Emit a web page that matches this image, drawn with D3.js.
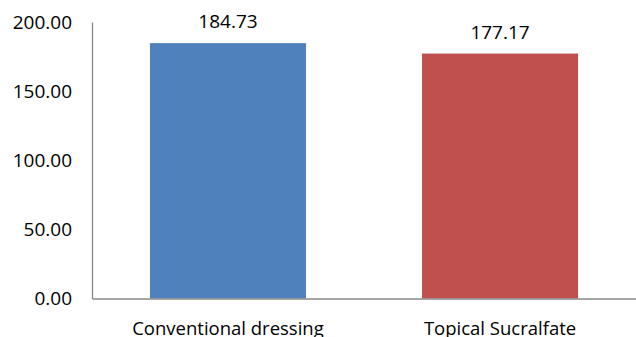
<!DOCTYPE html>
<html>
<head>
<meta charset="utf-8">
<script src="https://cdn.jsdelivr.net/npm/d3@7"></script>
<style>
html,body{margin:0;padding:0;background:#fff;}
svg{display:block;}
text{font-family:"Open Sans",sans-serif;fill:#000;}
</style>
</head>
<body>
<script>
const categories = ["Conventional dressing", "Topical Sucralfate"];
const values = [184.73, 177.17];
const colors = ["#4F81BD", "#C0504D"];
const yTicks = [0, 50, 100, 150, 200];

(function () {
const W = 636, H = 337;
const mLeft = 92, mRight = 636, mTop = 22, mBottom = 298.5;

const svg = d3.select("body").append("svg").attr("width", W).attr("height", H);

const x = d3.scaleBand().domain(categories).range([mLeft, mRight])
  .paddingInner(0.4265).paddingOuter(0.213);
const y = d3.scaleLinear().domain([0, 200]).range([mBottom, mTop]);

// bars
svg.selectAll("rect.bar").data(values).enter().append("rect")
  .attr("class", "bar")
  .attr("x", (d, i) => x(categories[i]))
  .attr("width", x.bandwidth())
  .attr("y", d => y(d))
  .attr("height", d => y(0) - y(d))
  .attr("fill", (d, i) => colors[i]);

// y axis
const yAxis = d3.axisLeft(y).tickValues(yTicks).tickSize(0).tickPadding(20)
  .tickFormat(d3.format(".2f"));
const gy = svg.append("g").attr("transform", `translate(${mLeft},0)`).call(yAxis);
gy.select(".domain").attr("stroke", "#898989").attr("stroke-width", 1.3);
gy.selectAll("text").attr("font-size", 19).attr("font-family", "Open Sans").attr("fill", "#000");

// x axis
const xAxis = d3.axisBottom(x).tickSize(0).tickPadding(20);
const gx = svg.append("g").attr("transform", `translate(0,${mBottom})`).call(xAxis);
gx.select(".domain").attr("stroke", "#898989").attr("stroke-width", 1.3);
gx.selectAll("text").attr("font-size", 18.5).attr("font-family", "Open Sans").attr("fill", "#000")
  .attr("dy", "0.9em");

// value labels
svg.selectAll("text.val").data(values).enter().append("text")
  .attr("class", "val")
  .attr("x", (d, i) => x(categories[i]) + x.bandwidth() / 2)
  .attr("y", d => y(d) - 15)
  .attr("text-anchor", "middle")
  .attr("font-size", 19)
  .text(d => d3.format(".2f")(d));
})();
</script>
</body>
</html>
